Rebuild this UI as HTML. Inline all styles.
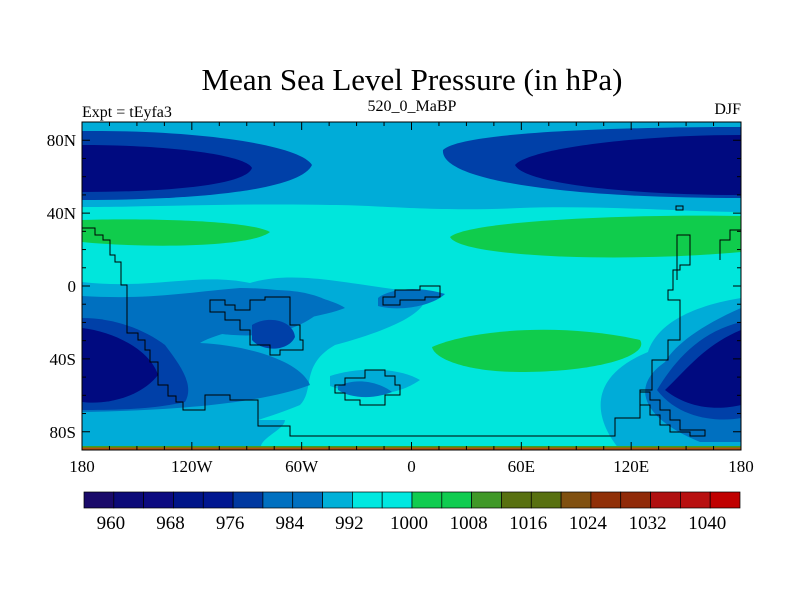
<!DOCTYPE html>
<html><head><meta charset="utf-8"><style>
body{margin:0;background:#fff;width:800px;height:600px;overflow:hidden}
text{font-family:"Liberation Serif",serif;fill:#000}
</style></head><body>
<svg width="800" height="600">
<text x="412" y="90" font-size="31" text-anchor="middle">Mean Sea Level Pressure (in hPa)</text>
<text x="82" y="117" font-size="16">Expt = tEyfa3</text>
<text x="412" y="111" font-size="16" text-anchor="middle">520_0_MaBP</text>
<text x="741" y="114" font-size="16" text-anchor="end">DJF</text>
<defs><clipPath id="pc"><rect x="82" y="122" width="659" height="328"/></clipPath></defs>
<g clip-path="url(#pc)">
<rect x="82" y="122" width="659" height="328" fill="#00e6dc"/>
<path d="M82 122 H741 V212 C690 212 600 205 520 208 C430 212 380 205 330 205 C250 203 150 207 82 207 Z" fill="#00acd8"/>
<path d="M82 131 C200 130 300 145 312 165 C300 190 200 200 82 200 Z" fill="#0040a8"/>
<path d="M741 127 C620 127 460 132 443 150 C440 180 560 198 741 198 Z" fill="#0040a8"/>
<path d="M82 145 C170 145 246 155 252 168 C246 185 170 192 82 192 Z" fill="#000a80"/>
<path d="M741 135 C640 135 530 148 515 165 C525 185 640 195 741 195 Z" fill="#000a80"/>
<path d="M82 220 C140 218 250 220 270 232 C250 248 140 248 82 242 Z" fill="#10cc4c"/>
<path d="M741 216 C640 214 470 220 450 237 C460 257 620 263 741 252 Z" fill="#10cc4c"/>
<path d="M82 282 C150 290 200 272 250 283 C300 268 360 288 425 292 C432 312 390 330 335 345 C300 365 315 390 300 405 C250 425 200 440 82 440 Z" fill="#00acd8"/>
<path d="M82 296 C150 300 190 292 240 288 C290 288 335 300 345 308 C310 322 230 325 200 343 C245 345 300 360 310 385 C270 400 200 410 82 412 Z" fill="#0070c0"/>
<path d="M205 300 C250 288 300 285 330 302 C310 325 275 342 215 333 Z" fill="#0070c0"/>
<path d="M252 325 C268 315 293 320 295 337 C288 352 262 352 252 340 Z" fill="#0040a8"/>
<path d="M82 318 C115 318 145 330 165 345 C180 365 195 385 185 402 C150 410 110 410 82 410 Z" fill="#0040a8"/>
<path d="M82 328 C115 332 150 350 158 375 C140 398 105 405 82 402 Z" fill="#000a80"/>
<path d="M378 298 C390 288 420 286 445 294 C432 306 400 312 378 306 Z" fill="#0070c0"/>
<path d="M330 376 C360 366 400 368 420 380 C400 394 370 400 330 386 Z" fill="#00acd8"/>
<path d="M338 386 C360 376 382 384 392 392 C372 400 350 398 338 390 Z" fill="#0070c0"/>
<path d="M741 298 C680 308 655 330 648 352 C585 378 595 420 620 450 H741 Z" fill="#00acd8"/>
<path d="M741 308 C700 326 675 345 665 362 C625 390 650 422 700 442 L741 442 Z" fill="#0070c0"/>
<path d="M741 322 C700 332 675 360 657 390 C680 420 720 422 741 418 Z" fill="#0040a8"/>
<path d="M741 330 C705 345 688 368 665 390 C690 410 720 410 741 405 Z" fill="#000a80"/>
<path d="M82 420 H285 C285 430 255 440 262 450 H82 Z" fill="#00acd8"/>
<path d="M432 347 C470 330 560 322 640 340 C650 355 600 372 520 372 C470 372 435 360 432 347 Z" fill="#10cc4c"/>
<rect x="82" y="447" width="659" height="3" fill="#b05010"/>
<rect x="82" y="446" width="659" height="1.5" fill="#40a020"/>
<g fill="none" stroke="#000" stroke-width="1">
<path d="M82 228 H95 V235 H103 V240 H110 V255 H115 V262 H121 V285 H127 V333 H138 V340 H145 V350 H150 V362 H158 V385 H168 V396 H176 V402 H183 V410 H205 V395 H230 V400 H258 V426 H290 V436 H615 V418 H640 V390 H652 V360 H668 V340 H680 V300 H668 V290 H673 V270 H680 V265 H690 V235 H677 V280"/>
<path d="M210 300 H225 V305 H235 V310 H250 V300 H265 V297 H290 V325 H300 V340 H303 V350 H280 V355 H270 V345 H250 V330 H240 V320 H225 V312 H210 Z"/>
<path d="M383 297 H395 V290 H420 V286 H440 V297 H425 V300 H400 V305 H383 Z"/>
<path d="M335 385 H345 V378 H365 V370 H385 V376 H395 V385 H400 V395 H385 V405 H360 V400 H345 V393 H335 Z"/>
<path d="M640 392 L650 392 V400 H660 V410 H670 V420 H680 V430 H705 V436 H690 V432 H670 V425 H660 V415 H650 V405 H640 Z"/>
<path d="M741 230 H730 V240 H720 V260"/>
<rect x="676" y="206" width="7" height="4"/>
</g>
</g>
<rect x="82" y="122" width="659" height="328" fill="none" stroke="#000"/>
<g id="axes"></g>
<g id="cbar"></g>
</svg>
<script>
const lonTicks=[-180,-120,-60,0,60,120,180];
const lonLabels=["180","120W","60W","0","60E","120E","180"];
const latTicks=[80,40,0,-40,-80];
const latLabels=["80N","40N","0","40S","80S"];
const levelLabels=["960","968","976","984","992","1000","1008","1016","1024","1032","1040"];
const cbarColors=["#1a0a6a","#0c0a78","#0c0a80","#001488","#001690","#0038a0","#0070c0","#0070c0","#00b0d8","#00e8e0","#00e8e0","#10cc50","#10cc50","#409828","#587010","#587010","#805010","#903008","#902a08","#b01010","#b81010","#c00000"];
const ns="http://www.w3.org/2000/svg";
const X=l=>82+(l+180)/360*659, Y=l=>286-l*1.822;
const ax=document.getElementById('axes');
function mk(t,a,p){const e=document.createElementNS(ns,t);for(const k in a)e.setAttribute(k,a[k]);p.appendChild(e);return e;}
for(let l=-180;l<=180;l+=15){const x=X(l);const big=l%60===0;
const t1=mk('line',{x1:x,x2:x,y1:450,y2:450-(big?8:4),stroke:'#000'},ax);


const t2=mk('line',{x1:x,x2:x,y1:122,y2:122+(big?8:4),stroke:'#000'},ax);

}
lonTicks.forEach((l,i)=>{const t=mk('text',{x:X(l),y:472,'font-size':17,'text-anchor':'middle'},ax);t.textContent=lonLabels[i];

});
for(let l=-90;l<=90;l+=10){const y=Y(l);const big=l%40===0&&Math.abs(l)<90;
const a=mk('line',{x1:82,x2:82+(big?8:4),y1:y,y2:y,stroke:'#000'},ax);


const b=mk('line',{x1:741,x2:741-(big?8:4),y1:y,y2:y,stroke:'#000'},ax);

}
latTicks.forEach((l,i)=>{const t=mk('text',{x:76,y:Y(l)+6,'font-size':17,'text-anchor':'end'},ax);t.textContent=latLabels[i];

});
const cb=document.getElementById('cbar');const w=656/cbarColors.length;
cbarColors.forEach((c,i)=>{const r=mk('rect',{x:84+i*w,y:492,width:w,height:16,fill:c,stroke:'#000','stroke-width':0.7},cb);

});
levelLabels.forEach((s,i)=>{const t=mk('text',{x:84+(2*i+0.9)*w,y:529,'font-size':19,'text-anchor':'middle'},cb);t.textContent=s;

});
</script>
</body></html>
